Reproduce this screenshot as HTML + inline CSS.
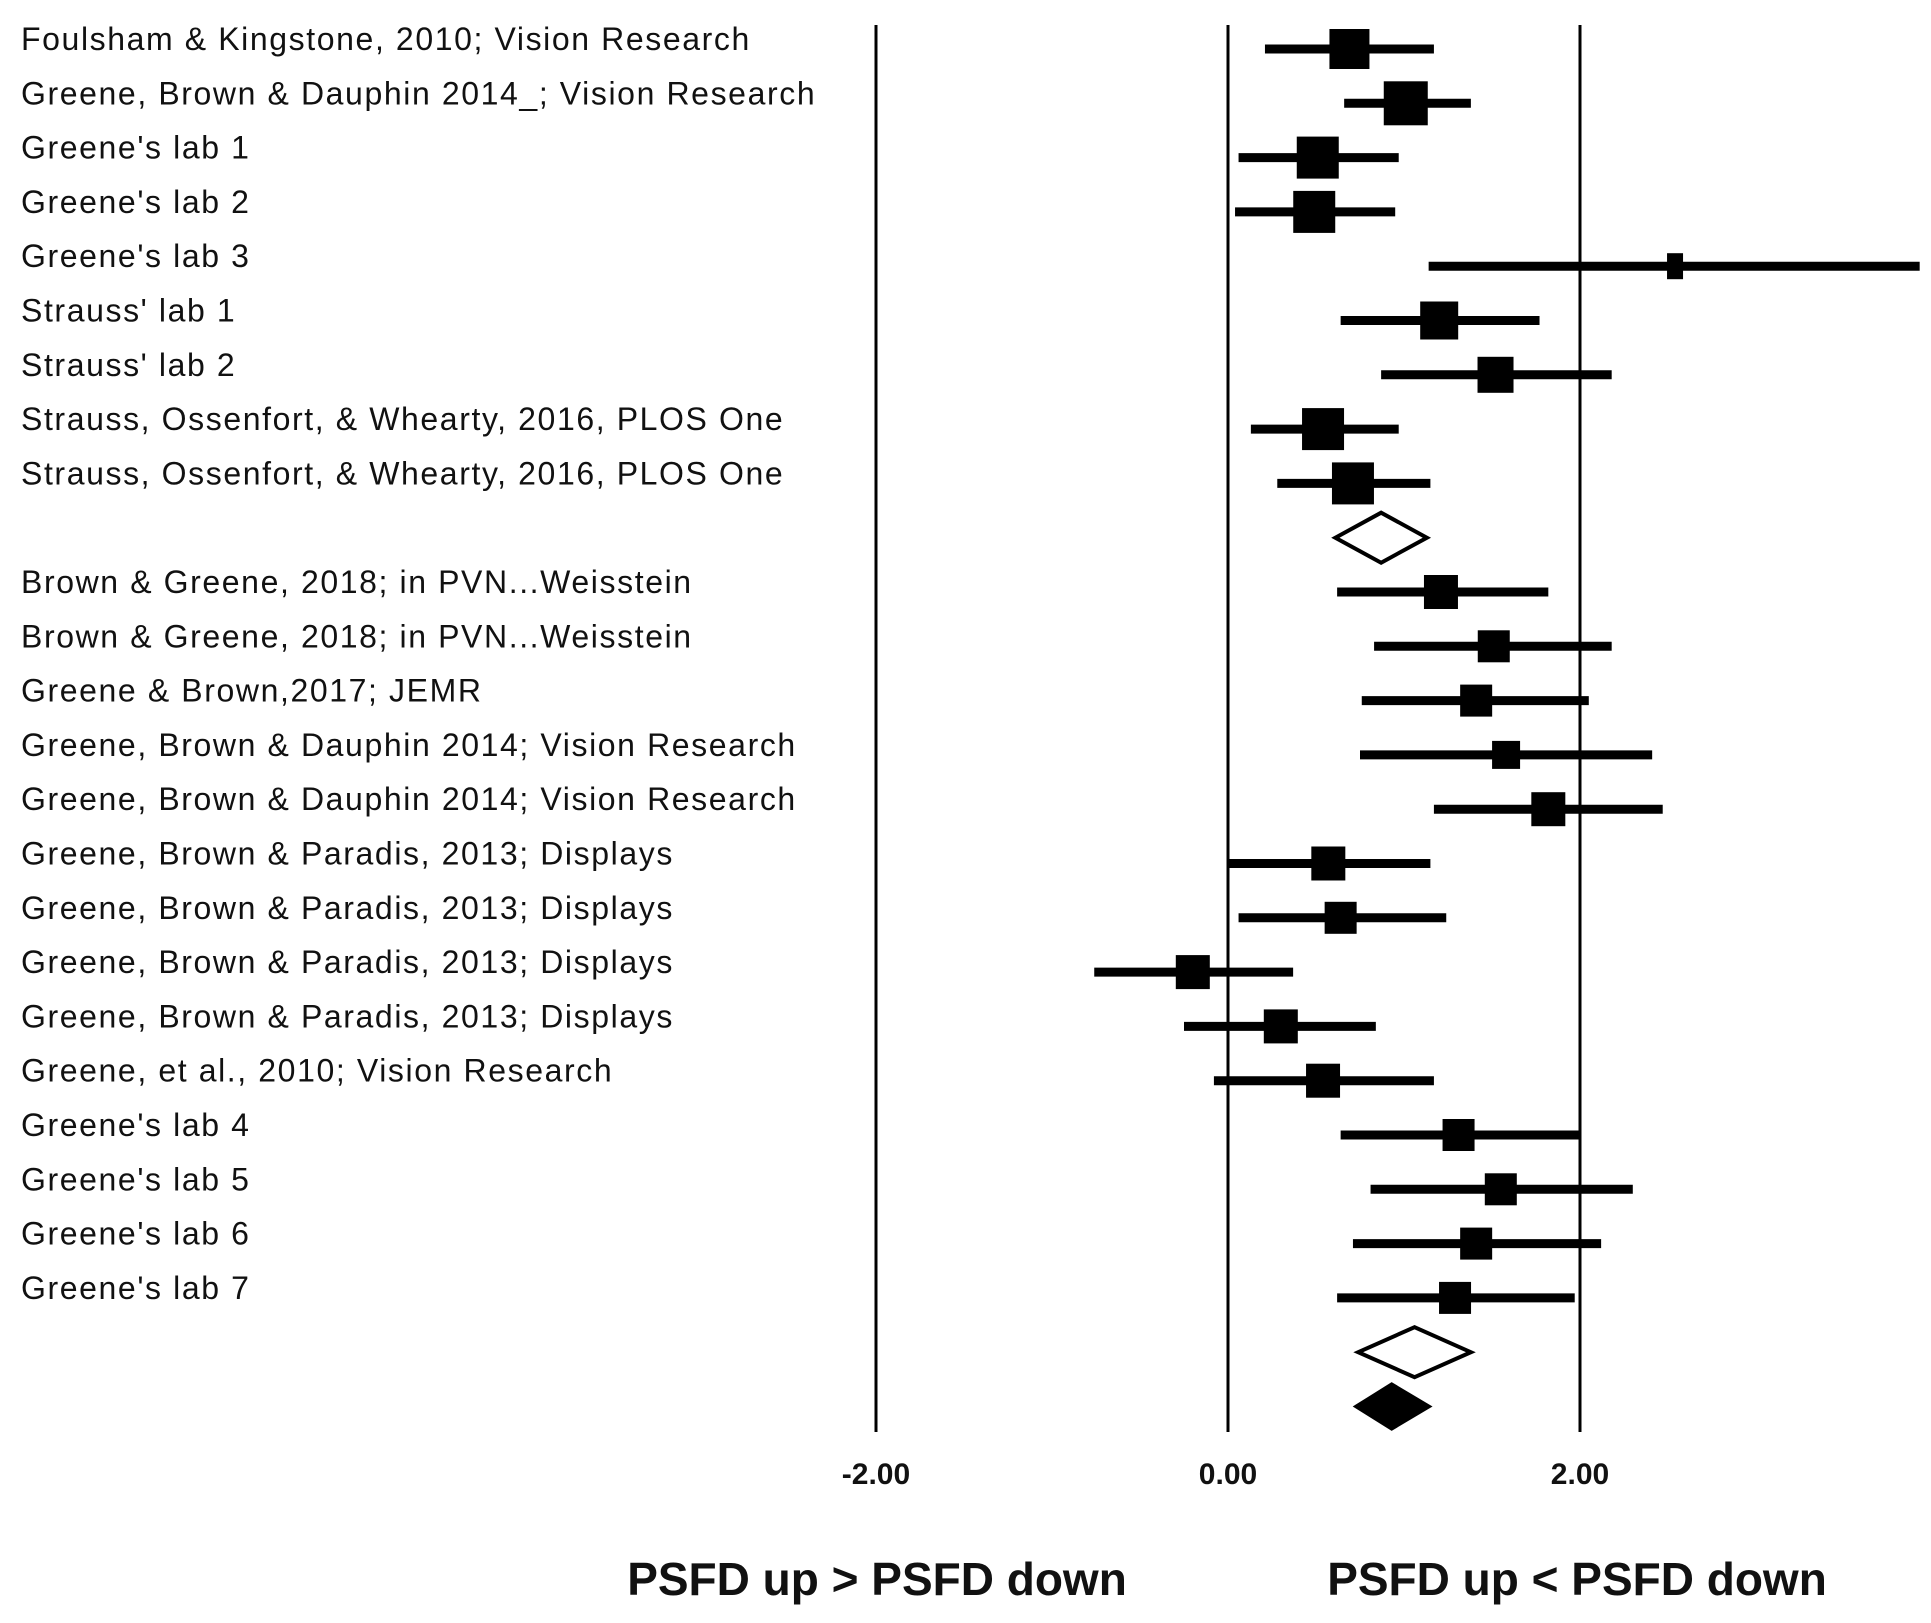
<!DOCTYPE html>
<html><head><meta charset="utf-8"><style>
html,body{margin:0;padding:0;background:#fff;}
svg{display:block;}
text{font-family:"Liberation Sans",Arial,sans-serif;fill:#111;}
</style></head><body>
<svg id="chart" width="1931" height="1623" viewBox="0 0 1931 1623" xmlns="http://www.w3.org/2000/svg"></svg>
<script>
const studies = ["Foulsham & Kingstone, 2010; Vision Research","Greene, Brown & Dauphin 2014_; Vision Research","Greene's lab 1","Greene's lab 2","Greene's lab 3","Strauss' lab 1","Strauss' lab 2","Strauss, Ossenfort, & Whearty, 2016, PLOS One","Strauss, Ossenfort, & Whearty, 2016, PLOS One","","Brown & Greene, 2018; in PVN...Weisstein","Brown & Greene, 2018; in PVN...Weisstein","Greene & Brown,2017; JEMR","Greene, Brown & Dauphin 2014; Vision Research","Greene, Brown & Dauphin 2014; Vision Research","Greene, Brown & Paradis, 2013; Displays","Greene, Brown & Paradis, 2013; Displays","Greene, Brown & Paradis, 2013; Displays","Greene, Brown & Paradis, 2013; Displays","Greene, et al., 2010; Vision Research","Greene's lab 4","Greene's lab 5","Greene's lab 6","Greene's lab 7"];
const effects = [0.69,1.01,0.51,0.49,2.54,1.20,1.52,0.54,0.71,null,1.21,1.51,1.41,1.58,1.82,0.57,0.64,-0.20,0.30,0.54,1.31,1.55,1.41,1.29];
const ciLow = [0.21,0.66,0.06,0.04,1.14,0.64,0.87,0.13,0.28,null,0.62,0.83,0.76,0.75,1.17,0.00,0.06,-0.76,-0.25,-0.08,0.64,0.81,0.71,0.62];
const ciHigh = [1.17,1.38,0.97,0.95,3.93,1.77,2.18,0.97,1.15,null,1.82,2.18,2.05,2.41,2.47,1.15,1.24,0.37,0.84,1.17,2.00,2.30,2.12,1.97];
const weights = [40,44,42,42,16,38,36,42,42,null,34,32,32,28,34,34,32,34,34,34,32,32,32,32];
const summaryRows = [9,24,25];
const summaryEst = [0.87,1.06,0.93];
const summaryLow = [0.61,0.74,0.73];
const summaryHigh = [1.13,1.38,1.14];
const summaryFilled = [false,false,true];
const tickValues = [-2,0,2];
const tickLabels = ["-2.00","0.00","2.00"];

const svg = document.getElementById('chart');
const NS = "http://www.w3.org/2000/svg";
const x = v => 1228 + v*176;
const y = i => 47 + i*54.3;
function mk(tag, attrs){const e=document.createElementNS(NS,tag);for(const k in attrs)e.setAttribute(k,attrs[k]);svg.appendChild(e);return e;}

tickValues.forEach((v,i)=>{
  const l = mk('line',{x1:x(v),x2:x(v),y1:25,y2:1432,stroke:'#000','stroke-width':3});
  
  
  const t = mk('text',{x:x(v),y:1484,'text-anchor':'middle','font-size':30,'font-weight':'bold'});
  t.textContent = tickLabels[i];
  
  
});

studies.forEach((s,i)=>{
  if(!s) return;
  const t = mk('text',{x:21,y:y(i)+3,'font-size':32,'letter-spacing':'1.6'});
  t.textContent = s;
  
  
  const ci = mk('line',{x1:x(ciLow[i]),x2:x(ciHigh[i]),y1:y(i)+2,y2:y(i)+2,stroke:'#000','stroke-width':9});
  
  
  const w = weights[i], h = i===4 ? 26 : w;
  const r = mk('rect',{x:x(effects[i])-w/2,y:y(i)+2-h/2,width:w,height:h,fill:'#000'});
  
  
});

summaryRows.forEach((row,i)=>{
  const cy = y(row)+2, h = summaryFilled[i]?22:25;
  const pts = [[x(summaryLow[i]),cy],[x(summaryEst[i]),cy-h],[x(summaryHigh[i]),cy],[x(summaryEst[i]),cy+h]].map(p=>p.join(',')).join(' ');
  const d = mk('polygon',{points:pts,fill:summaryFilled[i]?'#000':'#fff',stroke:'#000','stroke-width':4});
  
  
});

const a = mk('text',{x:877,y:1595,'text-anchor':'middle','font-size':46,'font-weight':'bold'});
a.textContent = 'PSFD up > PSFD down';


const b = mk('text',{x:1577,y:1595,'text-anchor':'middle','font-size':46,'font-weight':'bold'});
b.textContent = 'PSFD up < PSFD down';


</script>
</body></html>
